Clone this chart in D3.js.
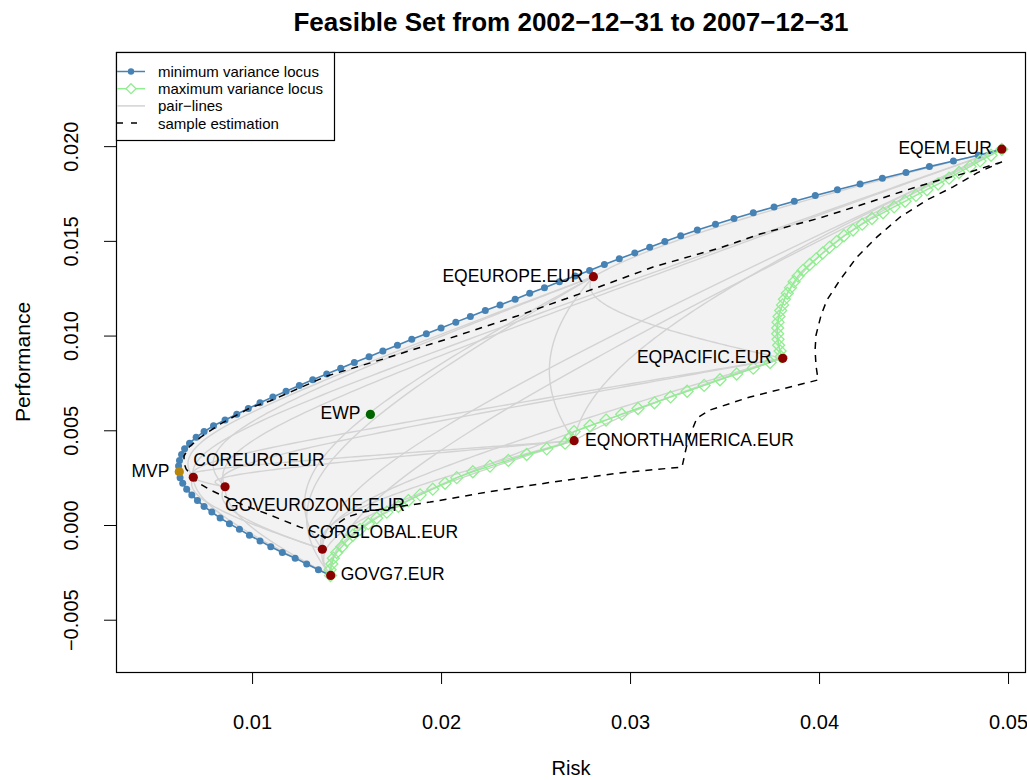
<!DOCTYPE html>
<html>
<head>
<meta charset="utf-8">
<script src="https://cdn.jsdelivr.net/npm/d3@7"></script>
<style>
  html, body { margin: 0; padding: 0; background: #ffffff; }
  svg { display: block; font-family: "Liberation Sans", Arial, Helvetica, sans-serif; }
</style>
</head>
<body>
<svg id="chart" width="1027" height="780"></svg>
<script>
// Target returns shared by the minimum and maximum variance loci
const frontierReturn = [
  -0.00267, -0.00236, -0.00206, -0.00175, -0.00145, -0.00115, -0.00084, -0.00054, -0.00023, 0.00007,
  0.00037, 0.00068, 0.00098, 0.00129, 0.00159, 0.00189, 0.00220, 0.00250, 0.00281, 0.00311,
  0.00341, 0.00372, 0.00402, 0.00432, 0.00463, 0.00493, 0.00524, 0.00554, 0.00585, 0.00615,
  0.00645, 0.00676, 0.00706, 0.00737, 0.00767, 0.00797, 0.00828, 0.00858, 0.00888, 0.00919,
  0.00949, 0.00980, 0.01010, 0.01040, 0.01071, 0.01101, 0.01132, 0.01162, 0.01192, 0.01223,
  0.01253, 0.01284, 0.01314, 0.01344, 0.01375, 0.01405, 0.01436, 0.01466, 0.01496, 0.01527,
  0.01557, 0.01588, 0.01618, 0.01648, 0.01679, 0.01709, 0.01740, 0.01770, 0.01800, 0.01831,
  0.01861, 0.01892, 0.01922, 0.01952, 0.01983
];

// Risk of the minimum variance locus at each target return
const minVarRisk = [
  0.01415, 0.01351, 0.01289, 0.01228, 0.01160, 0.01099, 0.01042, 0.00986, 0.00933, 0.00880,
  0.00831, 0.00787, 0.00746, 0.00711, 0.00681, 0.00654, 0.00633, 0.00619, 0.00610, 0.00611,
  0.00616, 0.00627, 0.00643, 0.00669, 0.00704, 0.00746, 0.00796, 0.00857, 0.00919, 0.00980,
  0.01042, 0.01110, 0.01180, 0.01250, 0.01321, 0.01395, 0.01469, 0.01541, 0.01619, 0.01692,
  0.01769, 0.01845, 0.01922, 0.02000, 0.02078, 0.02155, 0.02234, 0.02312, 0.02392, 0.02469,
  0.02547, 0.02626, 0.02709, 0.02786, 0.02864, 0.02943, 0.03025, 0.03104, 0.03184, 0.03268,
  0.03356, 0.03452, 0.03550, 0.03652, 0.03762, 0.03869, 0.03980, 0.04097, 0.04217, 0.04335,
  0.04460, 0.04584, 0.04711, 0.04843, 0.04967
];

// Risk of the maximum variance locus at each target return
const maxVarRisk = [
  0.01415, 0.01413, 0.01422, 0.01430, 0.01448, 0.01475, 0.01501, 0.01533, 0.01571, 0.01615,
  0.01660, 0.01713, 0.01774, 0.01827, 0.01889, 0.01956, 0.02021, 0.02083, 0.02168, 0.02259,
  0.02356, 0.02453, 0.02559, 0.02656, 0.02683, 0.02704, 0.02788, 0.02873, 0.02956, 0.03042,
  0.03129, 0.03214, 0.03302, 0.03392, 0.03476, 0.03564, 0.03652, 0.03741, 0.03799, 0.03794,
  0.03786, 0.03783, 0.03781, 0.03781, 0.03783, 0.03788, 0.03797, 0.03807, 0.03817, 0.03832,
  0.03849, 0.03868, 0.03889, 0.03915, 0.03950, 0.03985, 0.04020, 0.04055, 0.04093, 0.04132,
  0.04180, 0.04228, 0.04280, 0.04339, 0.04397, 0.04455, 0.04513, 0.04571, 0.04630, 0.04688,
  0.04741, 0.04799, 0.04852, 0.04910, 0.04967
];

// Single assets
const assetNames = [
  "COREURO.EUR", "GOVEUROZONE.EUR", "CORGLOBAL.EUR", "GOVG7.EUR",
  "EQEUROPE.EUR", "EQNORTHAMERICA.EUR", "EQPACIFIC.EUR", "EQEM.EUR"
];
const assetRisk   = [0.00689, 0.00857, 0.01372, 0.01416, 0.02806, 0.02704, 0.03808, 0.04967];
const assetReturn = [0.00252, 0.00202, -0.00128, -0.00266, 0.01311, 0.00445, 0.00880, 0.01984];

// Correlations between the assets (same order as assetNames)
const assetCorr = [
  [ 1.00,  0.85, 0.35, 0.50, -0.05,  0.00, 0.05, 0.05],
  [ 0.85,  1.00, 0.45, 0.60, -0.10, -0.05, 0.00, 0.00],
  [ 0.35,  0.45, 1.00, 0.95,  0.10,  0.40, 0.30, 0.30],
  [ 0.50,  0.60, 0.95, 1.00,  0.05,  0.30, 0.30, 0.30],
  [-0.05, -0.10, 0.10, 0.05,  1.00,  0.75, 0.65, 0.80],
  [ 0.00, -0.05, 0.40, 0.30,  0.75,  1.00, 0.90, 0.60],
  [ 0.05,  0.00, 0.30, 0.30,  0.65,  0.90, 1.00, 0.67],
  [ 0.05,  0.00, 0.30, 0.30,  0.80,  0.60, 0.67, 1.00]
];

// Equal weights and minimum variance portfolios
const specialNames  = ["EWP", "MVP"];
const specialRisk   = [0.01626, 0.00615];
const specialReturn = [0.00584, 0.00281];

// Feasible set boundary from the sample estimation
const sampleRisk = [
  0.04968, 0.04799, 0.04640, 0.04466, 0.04254, 0.04005, 0.03688, 0.03476, 0.03122, 0.02820,
  0.02402, 0.02048, 0.01693, 0.01397, 0.01095, 0.00989, 0.00831, 0.00730, 0.00667, 0.00640,
  0.00640, 0.00651, 0.00672, 0.00709, 0.00778, 0.00952, 0.01095, 0.01254, 0.01344, 0.01386,
  0.01450, 0.01503, 0.01587, 0.01799, 0.01942, 0.02243, 0.02593, 0.02947, 0.03275, 0.03291,
  0.03307, 0.03354, 0.03423, 0.03635, 0.03952, 0.03995, 0.03984, 0.03979, 0.03984, 0.04011,
  0.04042, 0.04111, 0.04201, 0.04307, 0.04429, 0.04571, 0.04709, 0.04836, 0.04968
];
const sampleReturn = [
  0.01917, 0.01864, 0.01822, 0.01769, 0.01700, 0.01621, 0.01536, 0.01463, 0.01362, 0.01251,
  0.01103, 0.00987, 0.00876, 0.00787, 0.00655, 0.00618, 0.00533, 0.00465, 0.00412, 0.00364,
  0.00327, 0.00296, 0.00269, 0.00227, 0.00185, 0.00106, 0.00053, -0.00011, -0.00042, -0.00069,
  0.00005, 0.00042, 0.00069, 0.00100, 0.00121, 0.00174, 0.00227, 0.00275, 0.00306, 0.00380,
  0.00449, 0.00565, 0.00607, 0.00676, 0.00755, 0.00766, 0.00840, 0.00924, 0.01003, 0.01109,
  0.01188, 0.01294, 0.01415, 0.01521, 0.01626, 0.01716, 0.01785, 0.01859, 0.01917
];

const xTicks = [0.01, 0.02, 0.03, 0.04, 0.05];
const xTickLabels = ["0.01", "0.02", "0.03", "0.04", "0.05"];
const yTicks = [-0.005, 0.000, 0.005, 0.010, 0.015, 0.020];
const yTickLabels = ["\u22120.005", "0.000", "0.005", "0.010", "0.015", "0.020"];

const titleText = "Feasible Set from 2002\u221212\u221231 to 2007\u221212\u221231";
const xTitle = "Risk";
const yTitle = "Performance";
const legendLabels = ["minimum variance locus", "maximum variance locus", "pair\u2212lines", "sample estimation"];

// ---- layout and styling ----
const plot = { left: 116, right: 1026, top: 52, bottom: 672 };
const colors = {
  minVar: "#4682B4", maxVar: "#90EE90", pair: "#D3D3D3", fill: "#F2F2F2",
  asset: "#8B0000", EWP: "#006400", MVP: "#B8860B"
};
const labelPlacement = {
  "EQEM.EUR":           { dx: -10, dy: -1,  anchor: "end" },
  "EQEUROPE.EUR":       { dx: -10, dy: -1,  anchor: "end" },
  "EQPACIFIC.EUR":      { dx: -11, dy: -1,  anchor: "end" },
  "EQNORTHAMERICA.EUR": { dx: 11,  dy: -1,  anchor: "start" },
  "GOVG7.EUR":          { dx: 10,  dy: -1,  anchor: "start" },
  "CORGLOBAL.EUR":      { dx: -15, dy: -17, anchor: "start" },
  "GOVEUROZONE.EUR":    { dx: 0,   dy: 18,  anchor: "start" },
  "COREURO.EUR":        { dx: 0,   dy: -17, anchor: "start" },
  "EWP":                { dx: -10, dy: -1,  anchor: "end" },
  "MVP":                { dx: -10, dy: -1,  anchor: "end" }
};

const svg = d3.select("#chart");

const x = d3.scaleLinear().domain([0.0028, 0.05095]).range([plot.left, plot.right]);
const y = d3.scaleLinear().domain([-0.00776, 0.02497]).range([plot.bottom, plot.top]);

const minVar = frontierReturn.map((r, i) => ({ risk: minVarRisk[i], ret: r }));
const maxVar = frontierReturn.map((r, i) => ({ risk: maxVarRisk[i], ret: r }));
const sample = sampleRisk.map((s, i) => ({ risk: s, ret: sampleReturn[i] }));

const line = d3.line().x(d => x(d.risk)).y(d => y(d.ret));

const clipId = "plotClip";
svg.append("defs").append("clipPath").attr("id", clipId)
  .append("rect")
  .attr("x", plot.left).attr("y", plot.top)
  .attr("width", plot.right - plot.left).attr("height", plot.bottom - plot.top);

const body = svg.append("g").attr("clip-path", `url(#${clipId})`);

// feasible region between the two loci
const region = minVar.concat(maxVar.slice().reverse());
body.append("path")
  .attr("d", line(region) + "Z")
  .attr("fill", colors.fill)
  .attr("stroke", "none");

// two-asset combination curves
const weights = d3.range(0, 1.0001, 0.01);
for (let i = 0; i < assetNames.length; i++) {
  for (let j = i + 1; j < assetNames.length; j++) {
    const si = assetRisk[i], sj = assetRisk[j], rho = assetCorr[i][j];
    const pts = weights.map(w => ({
      ret: w * assetReturn[i] + (1 - w) * assetReturn[j],
      risk: Math.sqrt(w * w * si * si + (1 - w) * (1 - w) * sj * sj + 2 * w * (1 - w) * rho * si * sj)
    }));
    body.append("path")
      .attr("d", line(pts))
      .attr("fill", "none")
      .attr("stroke", colors.pair)
      .attr("stroke-width", 1.4);
  }
}

// minimum variance locus
body.append("path")
  .attr("d", line(minVar))
  .attr("fill", "none")
  .attr("stroke", colors.minVar)
  .attr("stroke-width", 1.6);
body.append("g").selectAll("circle").data(minVar).join("circle")
  .attr("cx", d => x(d.risk)).attr("cy", d => y(d.ret))
  .attr("r", 3.5)
  .attr("fill", colors.minVar);

// maximum variance locus
body.append("path")
  .attr("d", line(maxVar))
  .attr("fill", "none")
  .attr("stroke", colors.maxVar)
  .attr("stroke-width", 1.4);
const diamond = "M0,-6L6,0L0,6L-6,0Z";
body.append("g").selectAll("path").data(maxVar).join("path")
  .attr("transform", d => `translate(${x(d.risk)},${y(d.ret)})`)
  .attr("d", diamond)
  .attr("fill", "none")
  .attr("stroke", colors.maxVar)
  .attr("stroke-width", 1.3);

// sample estimation boundary
body.append("path")
  .attr("d", line(sample))
  .attr("fill", "none")
  .attr("stroke", "#000000")
  .attr("stroke-width", 1.5)
  .attr("stroke-dasharray", "7,6");

// asset points
body.append("g").selectAll("circle").data(assetNames).join("circle")
  .attr("cx", (d, i) => x(assetRisk[i])).attr("cy", (d, i) => y(assetReturn[i]))
  .attr("r", 4.6)
  .attr("fill", colors.asset);

body.append("g").selectAll("circle").data(specialNames).join("circle")
  .attr("cx", (d, i) => x(specialRisk[i])).attr("cy", (d, i) => y(specialReturn[i]))
  .attr("r", 4.6)
  .attr("fill", d => colors[d]);

// point labels
const labels = assetNames.map((n, i) => ({ name: n, risk: assetRisk[i], ret: assetReturn[i] }))
  .concat(specialNames.map((n, i) => ({ name: n, risk: specialRisk[i], ret: specialReturn[i] })));
svg.append("g").selectAll("text").data(labels).join("text")
  .attr("x", d => x(d.risk) + labelPlacement[d.name].dx)
  .attr("y", d => y(d.ret) + labelPlacement[d.name].dy)
  .attr("text-anchor", d => labelPlacement[d.name].anchor)
  .attr("dominant-baseline", "central")
  .attr("font-size", 17.5)
  .attr("fill", "#000000")
  .text(d => d.name);

// axes
const xAxis = svg.append("g")
  .attr("transform", `translate(0,${plot.bottom})`)
  .call(d3.axisBottom(x).tickValues(xTicks).tickSize(12).tickFormat((d, i) => xTickLabels[i]));
xAxis.select(".domain").remove();
xAxis.selectAll("line").attr("stroke", "#000000").attr("stroke-width", 1);
xAxis.selectAll("text")
  .attr("y", 50).attr("dy", null)
  .attr("dominant-baseline", "central")
  .attr("font-size", 20)
  .attr("font-family", "Liberation Sans, Arial, sans-serif")
  .attr("fill", "#000000");

const yAxis = svg.append("g")
  .attr("transform", `translate(${plot.left},0)`)
  .call(d3.axisLeft(y).tickValues(yTicks).tickSize(12).tickFormat((d, i) => yTickLabels[i]));
yAxis.select(".domain").remove();
yAxis.selectAll("line").attr("stroke", "#000000").attr("stroke-width", 1);
yAxis.selectAll("text")
  .attr("x", 0).attr("y", 0).attr("dy", null)
  .attr("transform", "translate(-45,0) rotate(-90)")
  .attr("text-anchor", "middle")
  .attr("dominant-baseline", "central")
  .attr("font-size", 20)
  .attr("font-family", "Liberation Sans, Arial, sans-serif")
  .attr("fill", "#000000");

// plot frame
svg.append("rect")
  .attr("x", plot.left + 0.5).attr("y", plot.top + 0.5)
  .attr("width", plot.right - plot.left - 1).attr("height", plot.bottom - plot.top)
  .attr("fill", "none").attr("stroke", "#000000").attr("stroke-width", 1.2);

// titles
svg.append("text")
  .attr("x", (plot.left + plot.right) / 2).attr("y", 22)
  .attr("text-anchor", "middle").attr("dominant-baseline", "central")
  .attr("font-size", 26).attr("font-weight", "bold")
  .text(titleText);
svg.append("text")
  .attr("x", (plot.left + plot.right) / 2).attr("y", 768)
  .attr("text-anchor", "middle").attr("dominant-baseline", "central")
  .attr("font-size", 20)
  .text(xTitle);
svg.append("text")
  .attr("transform", `translate(22,${(plot.top + plot.bottom) / 2}) rotate(-90)`)
  .attr("text-anchor", "middle").attr("dominant-baseline", "central")
  .attr("font-size", 21)
  .text(yTitle);

// legend
const legend = svg.append("g");
legend.append("rect")
  .attr("x", plot.left + 0.5).attr("y", plot.top + 0.5)
  .attr("width", 218).attr("height", 88)
  .attr("fill", "#ffffff").attr("stroke", "#000000").attr("stroke-width", 1.2);
const rowY = i => plot.top + 19.5 + i * 17.2;
const symX0 = plot.left + 1, symX1 = plot.left + 29, symXm = plot.left + 15;
const legendStyles = [
  { stroke: colors.minVar, dash: null, marker: "circle" },
  { stroke: colors.maxVar, dash: null, marker: "diamond" },
  { stroke: colors.pair, dash: null, marker: null },
  { stroke: "#000000", dash: "6,8", marker: null }
];
legendLabels.forEach((lab, i) => {
  const st = legendStyles[i];
  const yy = rowY(i);
  legend.append("line")
    .attr("x1", symX0).attr("x2", symX1).attr("y1", yy).attr("y2", yy)
    .attr("stroke", st.stroke).attr("stroke-width", 1.5)
    .attr("stroke-dasharray", st.dash);
  if (st.marker === "circle") {
    legend.append("circle").attr("cx", symXm).attr("cy", yy).attr("r", 3.2).attr("fill", st.stroke);
  } else if (st.marker === "diamond") {
    legend.append("path").attr("transform", `translate(${symXm},${yy})`)
      .attr("d", "M0,-5L5,0L0,5L-5,0Z").attr("fill", "#ffffff").attr("stroke", st.stroke).attr("stroke-width", 1.3);
  }
  legend.append("text")
    .attr("x", plot.left + 42).attr("y", yy)
    .attr("dominant-baseline", "central")
    .attr("font-size", 15)
    .text(lab);
});
</script>
</body>
</html>
